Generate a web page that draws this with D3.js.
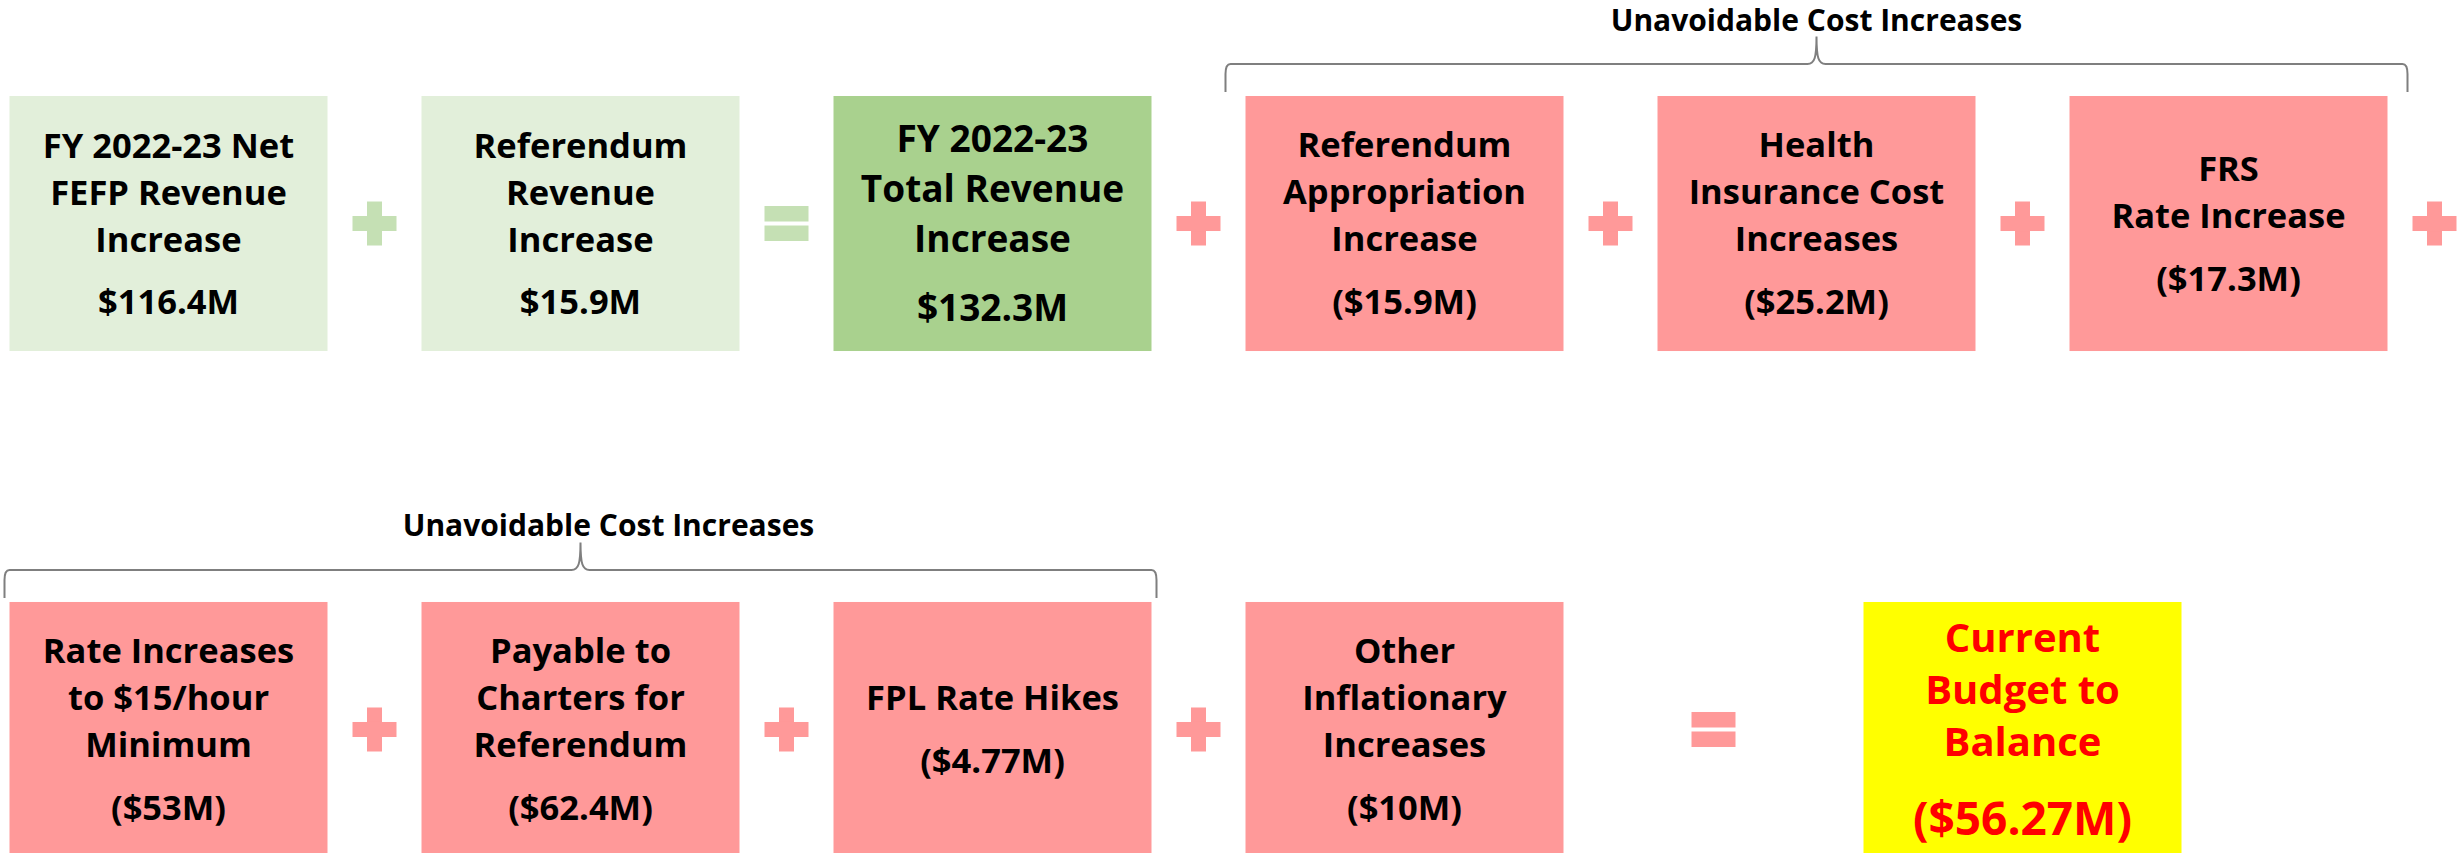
<!DOCTYPE html>
<html>
<head>
<meta charset="UTF-8">
<title>Budget to Balance</title>
<script src="https://cdn.jsdelivr.net/npm/d3@7"></script>
<style>
  body { margin: 0; background: #fff; }
  text { font-family: "Open Sans", sans-serif; font-weight: 700; }
</style>
</head>
<body>
<script>
// ---- data ----
var row1Labels = [
  ["FY 2022-23 Net", "FEFP Revenue", "Increase"],
  ["Referendum", "Revenue", "Increase"],
  ["FY 2022-23", "Total Revenue", "Increase"],
  ["Referendum", "Appropriation", "Increase"],
  ["Health", "Insurance Cost", "Increases"],
  ["FRS", "Rate Increase"]
];
var row1Values = ["$116.4M", "$15.9M", "$132.3M", "($15.9M)", "($25.2M)", "($17.3M)"];
var row1Kinds = ["revenue", "revenue", "total", "cost", "cost", "cost"];
var row1Ops = ["+", "=", "+", "+", "+", "+"];

var row2Labels = [
  ["Rate Increases", "to $15/hour", "Minimum"],
  ["Payable to", "Charters for", "Referendum"],
  ["FPL Rate Hikes"],
  ["Other", "Inflationary", "Increases"],
  ["Current", "Budget to", "Balance"]
];
var row2Values = ["($53M)", "($62.4M)", "($4.77M)", "($10M)", "($56.27M)"];
var row2Kinds = ["cost", "cost", "cost", "cost", "result"];
var row2Ops = ["+", "+", "+", "="];

var bracketTitle = "Unavoidable Cost Increases";
var bracketRows = [0, 1];
var bracketFrom = [3, 0];
var bracketTo = [5, 2];

// ---- styles ----
var w = 2463, h = 853;
var boxW = 318;
var fills = { revenue: "#E2EFDA", total: "#A9D18E", cost: "#FF9999", result: "#FFFF00" };
var textStyle = {
  revenue: { size: 34.5, vsize: 34.5, lh: 47, gap: 62, color: "#000" },
  total:   { size: 37,   vsize: 37,   lh: 50, gap: 69, color: "#000" },
  cost:    { size: 34.5, vsize: 34.5, lh: 47, gap: 63, color: "#000" },
  result:  { size: 40,   vsize: 46,   lh: 52, gap: 79, color: "#FF0000" }
};
var capRatio = 0.714;

var svg = d3.select("body").append("svg")
  .attr("width", w)
  .attr("height", h);

// slot index -> centre x, rows -> top y
var xSlot = d3.scaleLinear().domain([0, 11]).range([168.5, 2434.5]);
var yRow = d3.scaleBand().domain([0, 1]).range([96, 857]).paddingInner(0.496);

function buildRow(row, labels, values, kinds, ops, resultSlot) {
  var items = labels.map(function (l, i) {
    var slot = 2 * i;
    if (kinds[i] === "result") slot = resultSlot;
    return { row: row, i: i, slot: slot, label: l, value: values[i], kind: kinds[i] };
  });
  var opItems = ops.map(function (o, i) {
    var next = items[i + 1];
    var slot = 2 * i + 1;
    if (next && next.kind === "result") slot = (items[i].slot + next.slot) / 2;
    var nextKind = next ? next.kind : "cost";
    var green = nextKind === "revenue" || nextKind === "total";
    return { row: row, slot: slot, op: o, color: green ? "#C5E0B4" : "#FF9999" };
  });
  return { boxes: items, ops: opItems };
}

var r1 = buildRow(0, row1Labels, row1Values, row1Kinds, row1Ops, null);
var r2 = buildRow(1, row2Labels, row2Values, row2Kinds, row2Ops, 9);
var boxes = r1.boxes.concat(r2.boxes);
var ops = r1.ops.concat(r2.ops);

// ---- boxes ----
var bh = yRow.bandwidth();
var boxG = svg.selectAll("g.box")
  .data(boxes)
  .enter()
  .append("g")
  .attr("class", "box")
  .attr("transform", function (d) {
    return "translate(" + (xSlot(d.slot) - boxW / 2) + "," + yRow(d.row) + ")";
  });

boxG.append("rect")
  .attr("width", boxW)
  .attr("height", bh)
  .attr("fill", function (d) { return fills[d.kind]; });

boxG.each(function (d) {
  var st = textStyle[d.kind];
  var capH = st.size * capRatio;
  var n = d.label.length;
  var blockH = capH + (n - 1) * st.lh + st.gap;
  var firstBase = (bh - blockH) / 2 + capH;
  var g = d3.select(this);
  d.label.forEach(function (line, k) {
    g.append("text")
      .attr("x", boxW / 2)
      .attr("y", firstBase + k * st.lh)
      .attr("text-anchor", "middle")
      .attr("font-size", st.size)
      .attr("fill", st.color)
      .text(line);
  });
  g.append("text")
    .attr("x", boxW / 2)
    .attr("y", firstBase + (n - 1) * st.lh + st.gap)
    .attr("text-anchor", "middle")
    .attr("font-size", st.vsize)
    .attr("fill", st.color)
    .text(d.value);
});

// ---- operators ----
var opSize = 44, arm = 15;
var opG = svg.selectAll("g.op")
  .data(ops)
  .enter()
  .append("g")
  .attr("class", "op")
  .attr("transform", function (d) {
    return "translate(" + xSlot(d.slot) + "," + (yRow(d.row) + bh / 2) + ")";
  });

opG.each(function (d) {
  var g = d3.select(this);
  if (d.op === "+") {
    g.append("rect").attr("x", -arm / 2).attr("y", -opSize / 2)
      .attr("width", arm).attr("height", opSize).attr("fill", d.color);
    g.append("rect").attr("x", -opSize / 2).attr("y", -arm / 2)
      .attr("width", opSize).attr("height", arm).attr("fill", d.color);
  } else {
    g.append("rect").attr("x", -opSize / 2).attr("y", -17.5)
      .attr("width", opSize).attr("height", 15.5).attr("fill", d.color);
    g.append("rect").attr("x", -opSize / 2).attr("y", 2)
      .attr("width", opSize).attr("height", 15.5).attr("fill", d.color);
  }
});

// ---- brackets ----
var bracketPad = [20, 5];
var titleShift = [0, 28];
bracketRows.forEach(function (row, j) {
  var rowBoxes = row === 0 ? r1.boxes : r2.boxes;
  var left = xSlot(rowBoxes[bracketFrom[j]].slot) - boxW / 2 - bracketPad[j];
  var right = xSlot(rowBoxes[bracketTo[j]].slot) + boxW / 2 + bracketPad[j];
  var top = yRow(row);
  var lineY = top - 32;
  var bottom = top - 4;
  var tipX = (left + right) / 2;
  var tipY = lineY - 27.5;
  var p = d3.path();
  p.moveTo(left, bottom);
  p.lineTo(left, lineY + 10);
  p.quadraticCurveTo(left, lineY, left + 5, lineY);
  p.lineTo(tipX - 9, lineY);
  p.bezierCurveTo(tipX - 2, lineY, tipX, lineY - 6, tipX, tipY);
  p.bezierCurveTo(tipX, lineY - 6, tipX + 2, lineY, tipX + 9, lineY);
  p.lineTo(right - 5, lineY);
  p.quadraticCurveTo(right, lineY, right, lineY + 10);
  p.lineTo(right, bottom);
  svg.append("path")
    .attr("d", p.toString())
    .attr("fill", "none")
    .attr("stroke", "#7F7F7F")
    .attr("stroke-width", 2);
  svg.append("text")
    .attr("x", tipX + titleShift[j])
    .attr("y", tipY - 6)
    .attr("text-anchor", "middle")
    .attr("font-size", 30)
    .attr("fill", "#000")
    .text(bracketTitle);
});
</script>
</body>
</html>
